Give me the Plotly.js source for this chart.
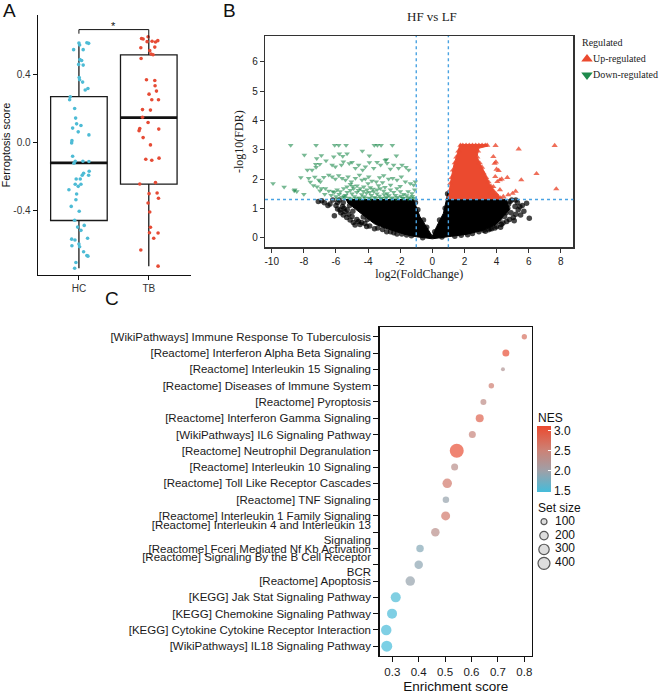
<!DOCTYPE html>
<html><head><meta charset="utf-8">
<script src="https://cdn.plot.ly/plotly-3.0.1.min.js"></script>
<style>html,body{margin:0;padding:0;background:#fff}#chart{width:660px;height:694px}</style>
</head><body><div id="chart"></div>
<script>
// ---------- Panel A : Ferroptosis score ----------
const groups = ['HC', 'TB'];
const hcOffset = [0,0.01,0.114,0.139,-0.076,0.061,0.014,0.039,-0.004,0.061,0.004,0.01,0.053,0.129,0.09,-0.124,-0.133,-0.061,-0.047,-0.033,0.029,-0.09,-0.01,0.143,-0.1,-0.104,-0.09,-0.053,-0.071,0.057,0.143,0.067,0.147,0.139,0.047,-0.039,0.019,-0.053,0.029,-0.01,-0.143,-0.033,-0.043,-0.11,0.004,-0.061,-0.019,0.076,0.029,0.124,-0.104,-0.057,0,-0.1,0.01,0.067,0.114,0.129,-0.043,-0.061];
const hcScore = [0.584,0.572,0.586,0.582,0.545,0.545,0.486,0.481,0.458,0.454,0.381,0.368,0.354,0.316,0.307,0.267,0.250,0.198,0.142,0.108,0.098,0.083,0.061,0.043,0.009,-0.004,-0.083,-0.112,-0.124,-0.112,-0.114,-0.183,-0.171,-0.195,-0.195,-0.217,-0.217,-0.248,-0.248,-0.26,-0.28,-0.305,-0.339,-0.378,-0.407,-0.46,-0.5,-0.49,-0.519,-0.566,-0.571,-0.576,-0.6,-0.61,-0.616,-0.645,-0.667,-0.671,-0.708,-0.742];
const tbOffset = [-0.01,-0.104,-0.081,0.047,0.129,-0.024,0.096,-0.114,0.086,0.014,0.033,0.061,-0.11,-0.033,0.086,0.09,0.11,0.004,0.043,0.139,-0.09,0.024,-0.09,-0.01,-0.129,-0.139,0.143,-0.081,0.024,-0.043,0.043,0.147,-0.129,0.096,0.004,0.119,0.139,-0.01,0.014,0.024,0.01,0.133,0.071,-0.114,0.133];
const tbScore = [0.621,0.611,0.608,0.594,0.598,0.592,0.59,0.556,0.56,0.539,0.519,0.515,0.493,0.368,0.363,0.332,0.301,0.283,0.25,0.25,0.192,0.189,0.147,0.116,0.08,0.068,0.077,0.027,-0.016,-0.1,-0.106,-0.094,-0.246,-0.238,-0.303,-0.299,-0.33,-0.358,-0.411,-0.501,-0.533,-0.535,-0.566,-0.635,-0.73];
const boxQ1 = [-0.461, -0.247];
const boxMedian = [-0.122, 0.145];
const boxQ3 = [0.268, 0.514];
const boxLower = [-0.742, -0.73];
const boxUpper = [0.586, 0.621];
const bracketY = [0.639, 0.663, 0.663, 0.615];
const sigLabel = '*';

// ---------- Panel B : volcano ----------
const fcCut = 1;
const fdrCut = 1.3;
const regLabels = ['Up-regulated', 'Down-regulated'];
const downFC = [-8.82,-7.24,-6.08,-5.83,-5.37,-3.61,-3.42,-3.19,-2.49,
 -7.97,-5.79,-5.58,-5.31,-4.36,-2.86,-7.2,-7.26,-6.91,-6.14,-3.92,-2.24,
 -7.78,-7.49,-7.24,-7.01,-6.62,-6.24,-6.04,-5.66,-5.54,-5.17,-5.0,-4.79,-4.59,-4.34,-4.17,-3.92,-3.65,-3.44,-3.22,-2.93,-2.82,-2.61,-2.41,-2.10,-1.89,-1.64,-1.47,
 -8.19,-7.70,-7.32,-7.07,-6.97,-6.76,-6.45,-6.24,-6.04,-5.83,-5.62,-5.41,-5.25,-5.04,-4.79,-4.54,-4.38,-4.17,-3.96,-3.76,-3.49,-3.28,-3.03,-2.72,-2.47,-2.20,-1.93,-1.68,-1.37,-1.16,-1.06,
 -9.92,-9.23,-8.57,-8.44,-8.0,-7.18,-6.91,-6.66,-6.45,-6.20,-5.93,-5.73,-5.52,-5.31,-5.10,-4.90,-4.69,-4.48,-4.27,-4.07,-3.86,-3.65,-3.44,-3.24,-3.03,-2.82,-2.61,-2.41,-2.20,-1.99,-1.78,-1.51,-1.27,-1.10,
 -6.3,-6.0,-5.8,-5.6,-5.4,-5.2,-5.0,-4.85,-4.7,-4.55,-4.4,-4.25,-4.1,-3.95,-3.8,-3.6,-3.45,-3.3,-3.15,-3.0,-2.85,-2.7,-2.5,-2.3,-2.15,-1.95,-1.8,-1.6,-1.45,-1.25,-1.12,
 -4.6,-4.3,-3.9,-3.7,-5.3,-5.1,-4.95,-3.35,-2.95,-2.6,-6.1,-6.7,-7.0,-7.4,-7.6,-8.6,-5.5,-4.0,-3.1,-2.0,
 -5.9,-5.45,-5.05,-4.75,-4.5,-4.2,-3.85,-3.5,-3.2,-2.9,-2.55,-2.25,-1.85,-1.5,-1.3];
const downLogFDR = [3.15,3.15,3.15,3.15,3.15,3.15,3.15,3.15,3.15,
 2.82,2.86,2.78,2.86,2.96,2.67,2.70,2.50,2.80,2.76,2.79,2.79,
 2.31,2.31,2.40,2.50,2.62,2.48,2.42,2.48,2.59,2.53,2.57,2.37,2.48,2.31,2.42,2.56,2.37,2.57,2.48,2.64,2.54,2.34,2.48,2.37,2.48,2.40,2.31,
 2.05,2.03,2.07,1.97,1.91,2.06,2.14,2.08,2.00,2.12,2.03,1.97,2.08,1.91,2.03,2.14,1.97,2.00,2.08,1.93,1.91,2.05,2.12,2.00,2.03,1.97,2.08,1.91,1.85,1.80,1.91,
 1.85,1.73,1.63,1.57,1.48,1.74,1.68,1.68,1.59,1.57,1.63,1.57,1.68,1.74,1.82,1.68,1.77,1.68,1.74,1.63,1.71,1.57,1.63,1.68,1.59,1.51,1.63,1.55,1.68,1.57,1.48,1.57,1.51,1.63,
 1.45,1.40,1.48,1.38,1.45,1.35,1.50,1.40,1.55,1.36,1.47,1.40,1.52,1.35,1.45,1.38,1.50,1.42,1.35,1.47,1.39,1.44,1.36,1.45,1.38,1.42,1.35,1.44,1.37,1.41,1.35,
 1.62,1.58,1.55,1.66,1.55,1.62,1.75,1.78,1.72,1.80,1.55,1.48,1.60,1.78,1.90,1.60,1.42,1.85,1.88,1.75,
 1.33,1.36,1.33,1.34,1.33,1.35,1.33,1.34,1.33,1.34,1.33,1.33,1.34,1.33,1.33];
const upFC = [1.05,1.08,1.12,1.2,1.28,1.4,1.5,1.62,1.75,1.9,2.1,2.3,2.5,2.7,2.9,3.1,3.3,3.42,
 2.85,2.8,2.95,3.1,3.2,3.35,3.5,3.65,3.8,3.95,4.1,4.25,
 3.94,5.38,7.62,6.49,5.54,7.72,5.19,5.0,4.67,4.21,3.96,3.88,4.0,4.13,3.92,4.05,3.8,4.21,4.01,4.42,4.73,3.6,3.8,4.32];
const upLogFDR = [1.4,1.6,1.85,2.05,2.3,2.55,2.75,2.95,3.15,3.15,3.15,3.15,3.15,3.15,3.15,3.15,3.15,3.15,
 2.95,2.75,2.55,2.4,2.2,2.05,1.9,1.75,1.6,1.5,1.4,1.35,
 3.14,3.02,3.14,2.18,1.97,1.66,1.58,1.51,2.05,1.97,2.58,2.53,2.33,2.29,2.08,1.91,1.74,1.63,1.46,1.40,1.46,1.51,2.76,2.0];
const upCoreFC = [1.05,1.08,1.2,1.35,1.55,1.7,1.72,3.42,3.42,2.9,2.78,3.0,3.18,3.55,3.9,4.21,4.25];
const upCoreLogFDR = [1.31,1.7,2.1,2.5,2.85,3.1,3.18,3.18,3.12,3.05,2.76,2.5,2.31,1.85,1.55,1.35,1.31];
const nsCoreFC = [-5.4,-1.18,-0.77,-0.25,0,0.27,0.69,0.9,0.98,1.05,4.6,4.8,4.4,3.9,3.1,2.1,1.1,0,-1.0,-1.7,-2.7,-3.6,-4.5,-5.3];
const nsCoreLogFDR = [1.30,1.30,0.72,0.26,0.05,0.38,0.83,1.35,1.6,1.31,1.31,0.95,0.7,0.42,0.24,0.11,0.04,-0.04,0.03,0.11,0.28,0.47,0.85,1.2];
const nsFC = [-7.10,-6.89,-6.72,-6.37,-6.10,-5.6,-5.44,-5.54,-5.33,-5.12,-4.81,-5.9,-5.75,-4.92,-4.5,-4.09,-3.6,-2.84,-2.2,-1.6,-6.2,-5.8,-4.6,-5.2,
 4.84,5.15,5.87,5.35,5.5,6.04,5.04,4.21,4.0,4.63,4.31,4.5,4.7,4.9,5.6,3.6,3.2,4.3,5.2,4.95,
 -5.9,-5.5,-5.3,-5.0,-4.7,-4.4,-4.2,-3.9,-3.4,-3.1,-2.6,-2.4,-1.9,-1.3,-0.6,-6.5,-6.0,-5.7,-4.95,-4.3,-5.55,-5.15,-4.05,-3.3,-2.95,
 0.6,1.4,1.8,2.5,2.9,3.5,3.9,4.4,4.8,5.2,4.6,5.3,5.7,4.1,4.5,5.1,4.75,5.45,3.3,3.7,4.25,2.2,
 -1.05,-0.9,-0.55,-0.35,0.15,0.45,0.8,0.95];
const nsLogFDR = [1.23,1.26,1.19,1.15,0.75,1.06,0.89,0.77,0.69,0.6,0.43,1.2,0.94,0.52,0.45,0.38,0.3,0.2,0.12,0.09,1.28,1.28,0.55,0.8,
 1.23,1.06,1.17,0.95,0.77,0.66,0.69,0.66,0.38,0.55,0.89,1.2,1.0,0.85,1.1,0.3,0.25,0.45,1.28,1.28,
 0.98,1.0,0.95,0.72,0.62,0.52,0.48,0.4,0.33,0.28,0.2,0.17,0.12,0.06,0.0,1.1,1.1,0.85,0.9,0.7,1.2,1.1,0.62,0.5,0.4,
 0.02,0.05,0.08,0.14,0.2,0.27,0.33,0.5,0.62,0.8,0.85,1.2,0.9,0.55,0.72,0.58,1.15,1.05,0.22,0.3,0.35,0.1,
 1.2,0.95,0.6,0.35,0.2,0.6,1.0,1.5];

// ---------- Panel C : enrichment ----------
const pathways = [
 '[WikiPathways] Immune Response To Tuberculosis',
 '[Reactome] Interferon Alpha Beta Signaling',
 '[Reactome] Interleukin 15 Signaling',
 '[Reactome] Diseases of Immune System',
 '[Reactome] Pyroptosis',
 '[Reactome] Interferon Gamma Signaling',
 '[WikiPathways] IL6 Signaling Pathway',
 '[Reactome] Neutrophil Degranulation',
 '[Reactome] Interleukin 10 Signaling',
 '[Reactome] Toll Like Receptor Cascades',
 '[Reactome] TNF Signaling',
 '[Reactome] Interleukin 1 Family Signaling',
 '[Reactome] Interleukin 4 and Interleukin 13<br>Signaling',
 '[Reactome] Fceri Mediated Nf Kb Activation',
 '[Reactome] Signaling By the B Cell Receptor<br>BCR',
 '[Reactome] Apoptosis',
 '[KEGG] Jak Stat Signaling Pathway',
 '[KEGG] Chemokine Signaling Pathway',
 '[KEGG] Cytokine Cytokine Receptor Interaction',
 '[WikiPathways] IL18 Signaling Pathway'];
const enrichScore = [0.80,0.73,0.719,0.675,0.645,0.631,0.603,0.544,0.536,0.508,0.503,0.502,0.463,0.405,0.40,0.368,0.313,0.299,0.277,0.279];
const nes = [2.7,3.05,2.2,2.55,2.35,2.85,2.45,3.05,2.3,2.6,1.95,2.6,2.3,1.85,1.9,1.95,1.52,1.5,1.5,1.48];
const setSize = [78,136,44,84,100,178,136,544,136,251,117,225,200,156,200,251,278,278,306,336];
const sizeBreaks = [100, 200, 300, 400];
const nesTicks = [1.5, 2.0, 2.5, 3.0];

// ---------- build ----------
const W = 660, H = 694;
const px = v => v / W, py = v => 1 - v / H;
const sizeScale = 0.6;
const dia = s => sizeScale * Math.sqrt(s);
const boxWidth = 0.81;
const sans = 'Liberation Sans, Arial, sans-serif';
const serif = 'Liberation Serif, Times New Roman, serif';
const npgRed = '#E64B35', npgBlue = '#4DBBD5';
const upColor = '#EB4A2F', downColor = '#1E8A4C';

const traces = [];
// A
traces.push({type:'box', x:[0,1], q1:boxQ1, median:boxMedian, q3:boxQ3, lowerfence:boxLower, upperfence:boxUpper,
  width:boxWidth, whiskerwidth:0, boxpoints:false, fillcolor:'rgba(255,255,255,0)', line:{color:'#1a1a1a', width:1.3},
  xaxis:'x', yaxis:'y', showlegend:false, hoverinfo:'skip'});
const medX = [], medY = [];
boxMedian.forEach((m,i)=>{ medX.push(i-boxWidth/2, i+boxWidth/2, null); medY.push(m, m, null); });
traces.push({type:'scatter', mode:'lines', x:medX, y:medY, line:{color:'#111', width:2.8}, xaxis:'x', yaxis:'y', showlegend:false, hoverinfo:'skip'});
traces.push({type:'scatter', mode:'markers', x:hcOffset.map(d=>0+d), y:hcScore, marker:{color:npgBlue, size:3.6}, xaxis:'x', yaxis:'y', showlegend:false});
traces.push({type:'scatter', mode:'markers', x:tbOffset.map(d=>1+d), y:tbScore, marker:{color:npgRed, size:3.6}, xaxis:'x', yaxis:'y', showlegend:false});
traces.push({type:'scatter', mode:'lines', x:[0,0,1,1], y:bracketY, line:{color:'#111', width:1}, xaxis:'x', yaxis:'y', showlegend:false, hoverinfo:'skip', cliponaxis:false});

// B
traces.push({type:'scatter', mode:'lines', x:nsCoreFC, y:nsCoreLogFDR, fill:'toself', fillcolor:'#000', line:{color:'#000', width:1}, xaxis:'x2', yaxis:'y2', showlegend:false, hoverinfo:'skip'});
traces.push({type:'scatter', mode:'markers', x:nsFC, y:nsLogFDR, marker:{color:'rgba(0,0,0,0.72)', size:5.5}, xaxis:'x2', yaxis:'y2', showlegend:false});
traces.push({type:'scatter', mode:'lines', x:upCoreFC, y:upCoreLogFDR, fill:'toself', fillcolor:upColor, line:{color:upColor, width:1}, xaxis:'x2', yaxis:'y2', showlegend:false, hoverinfo:'skip'});
traces.push({type:'scatter', mode:'markers', name:regLabels[0], x:upFC, y:upLogFDR, marker:{color:upColor, symbol:'triangle-up', size:5.5, opacity:0.8}, xaxis:'x2', yaxis:'y2', showlegend:false});
traces.push({type:'scatter', mode:'markers', name:regLabels[1], x:downFC, y:downLogFDR, marker:{color:downColor, symbol:'triangle-down', size:5, opacity:0.6}, xaxis:'x2', yaxis:'y2', showlegend:false});
// manual legend for B
traces.push({type:'scatter', mode:'markers', x:[9,9], y:[0,1], marker:{color:[upColor, downColor], symbol:['triangle-up','triangle-down'], size:10},
  xaxis:'x5', yaxis:'y5', showlegend:false, hoverinfo:'skip', cliponaxis:false});
traces.push({type:'scatter', mode:'text', x:[15,15], y:[0,1], text:regLabels, textposition:'middle right',
  textfont:{family:serif, size:10, color:'#222'}, xaxis:'x5', yaxis:'y5', showlegend:false, hoverinfo:'skip', cliponaxis:false});

// C
traces.push({type:'scatter', mode:'markers', x:enrichScore, y:pathways.map((p,i)=>i),
  marker:{color:nes, size:setSize.map(dia), cmin:1.48, cmax:3.11,
    colorscale:[[0,'#45BCDA'],[0.32,'#9EA0A8'],[0.63,'#CC8276'],[1,'#EB4A2F']],
    line:{width:0}, showscale:true,
    colorbar:{x:px(536.7), xanchor:'left', y:py(492), yanchor:'bottom', len:66, lenmode:'pixels', thickness:14,
      xpad:0, ypad:0, outlinewidth:0, tickvals:nesTicks, ticktext:nesTicks.map(v=>v.toFixed(1)),
      ticks:'inside', ticklen:3, tickcolor:'#fff', tickfont:{family:sans, size:12, color:'#111'}}},
  xaxis:'x3', yaxis:'y3', showlegend:false, cliponaxis:false});
// size legend
traces.push({type:'scatter', mode:'markers', x:sizeBreaks.map(()=>14), y:sizeBreaks.map((s,i)=>i),
  marker:{color:'#CFCFCF', size:sizeBreaks.map(dia), line:{color:'#111', width:1.2}}, xaxis:'x4', yaxis:'y4', showlegend:false, hoverinfo:'skip', cliponaxis:false});
traces.push({type:'scatter', mode:'text', x:sizeBreaks.map(()=>25), y:sizeBreaks.map((s,i)=>i), text:sizeBreaks.map(String),
  textposition:'middle right', textfont:{family:sans, size:12, color:'#111'}, xaxis:'x4', yaxis:'y4', showlegend:false, hoverinfo:'skip', cliponaxis:false});

const axA = {showline:true, linecolor:'#111', linewidth:1.1, ticks:'outside', ticklen:4, tickcolor:'#111', showgrid:false, zeroline:false, tickfont:{family:sans, size:10, color:'#333'}};
const axB = {showline:true, mirror:true, linecolor:'#333', linewidth:1.2, ticks:'outside', ticklen:4, tickcolor:'#333', showgrid:false, zeroline:false, tickfont:{family:sans, size:10, color:'#222'}};
const axC = {showline:true, mirror:true, linecolor:'#111', linewidth:1.2, ticks:'outside', ticklen:5, tickcolor:'#111', showgrid:false, zeroline:false, tickfont:{family:sans, size:11.5, color:'#1a1a1a'}};
const volX = [-10,-8,-6,-4,-2,0,2,4,6,8];
const volY = [0,1,2,3,4,5,6];
const esTicks = [0.3,0.4,0.5,0.6,0.7,0.8];

const layout = {
  width:W, height:H, margin:{l:0,r:0,t:0,b:0}, paper_bgcolor:'#fff', plot_bgcolor:'rgba(0,0,0,0)',
  font:{family:sans, color:'#111'}, showlegend:false,
  xaxis:Object.assign({}, axA, {domain:[px(37.7), px(190.7)], range:[-0.59,1.6], tickvals:[0,1], ticktext:groups, anchor:'y'}),
  yaxis:Object.assign({}, axA, {domain:[py(275), py(15)], range:[-0.782,0.749], tickvals:[-0.4,0,0.4], ticktext:['-0.4','0.0','0.4'], anchor:'x',
    title:{text:'Ferroptosis score', font:{family:sans, size:11, color:'#111'}, standoff:7}}),
  xaxis2:Object.assign({}, axB, {domain:[px(265), px(573.3)], range:[-10.42,8.78], tickvals:volX, ticktext:volX.map(String), anchor:'y2',
    title:{text:'log2(FoldChange)', font:{family:serif, size:12, color:'#222'}, standoff:4}}),
  yaxis2:Object.assign({}, axB, {domain:[py(247.3), py(36)], range:[-0.33,6.88], tickvals:volY, ticktext:volY.map(String), anchor:'x2',
    title:{text:'-log10(FDR)', font:{family:serif, size:12, color:'#222'}, standoff:6}}),
  xaxis3:Object.assign({}, axC, {domain:[px(379.5), px(532)], range:[0.2515,0.829], tickvals:esTicks, ticktext:esTicks.map(v=>v.toFixed(1)), anchor:'y3',
    title:{text:'Enrichment score', font:{family:sans, size:13.5, color:'#111'}, standoff:4}}),
  yaxis3:Object.assign({}, axC, {domain:[py(656), py(327)], range:[19.6,-0.6], tickvals:pathways.map((p,i)=>i), ticktext:pathways, anchor:'x3'}),
  xaxis4:{domain:[px(530), px(590)], range:[0,60], visible:false, fixedrange:true, anchor:'y4'},
  yaxis4:{domain:[py(570), py(515)], range:[3.48,-0.48], visible:false, fixedrange:true, anchor:'x4'},
  xaxis5:{domain:[px(578), px(600)], range:[0,22], visible:false, fixedrange:true, anchor:'y5'},
  yaxis5:{domain:[py(82), py(52)], range:[1.4375,-0.4375], visible:false, fixedrange:true, anchor:'x5'},
  shapes:[
    {type:'line', xref:'x2', yref:'y2 domain', x0:-fcCut, x1:-fcCut, y0:0, y1:1, line:{color:'#4AA3E2', width:1.4, dash:'dot'}},
    {type:'line', xref:'x2', yref:'y2 domain', x0:fcCut, x1:fcCut, y0:0, y1:1, line:{color:'#4AA3E2', width:1.4, dash:'dot'}},
    {type:'line', xref:'x2 domain', yref:'y2', x0:0, x1:1, y0:fdrCut, y1:fdrCut, line:{color:'#4AA3E2', width:1.4, dash:'dot'}}
  ],
  annotations:[
    {text:'A', x:px(9.5), y:py(11), xref:'paper', yref:'paper', xanchor:'center', yanchor:'middle', showarrow:false, font:{family:sans, size:19, color:'#111'}},
    {text:'B', x:px(229.5), y:py(10.5), xref:'paper', yref:'paper', xanchor:'center', yanchor:'middle', showarrow:false, font:{family:sans, size:19, color:'#111'}},
    {text:'C', x:px(112), y:py(298), xref:'paper', yref:'paper', xanchor:'center', yanchor:'middle', showarrow:false, font:{family:sans, size:19, color:'#111'}},
    {text:'HF vs LF', x:px(432.3), y:py(17), xref:'paper', yref:'paper', xanchor:'center', yanchor:'middle', showarrow:false, font:{family:serif, size:13, color:'#222'}},
    {text:'Regulated', x:px(580), y:py(43), xref:'paper', yref:'paper', xanchor:'left', yanchor:'middle', showarrow:false, font:{family:serif, size:10, color:'#222'}},
    {text:sigLabel, x:0.5, y:0.686, xref:'x', yref:'y', showarrow:false, font:{family:sans, size:11, color:'#111'}},
    {text:'NES', x:px(535.5), y:py(418), xref:'paper', yref:'paper', xanchor:'left', yanchor:'middle', showarrow:false, font:{family:sans, size:12, color:'#111'}},
    {text:'Set size', x:px(535.5), y:py(508), xref:'paper', yref:'paper', xanchor:'left', yanchor:'middle', showarrow:false, font:{family:sans, size:12, color:'#111'}}
  ]
};
Plotly.newPlot('chart', traces, layout, {displayModeBar:false, staticPlot:true});
</script></body></html>
